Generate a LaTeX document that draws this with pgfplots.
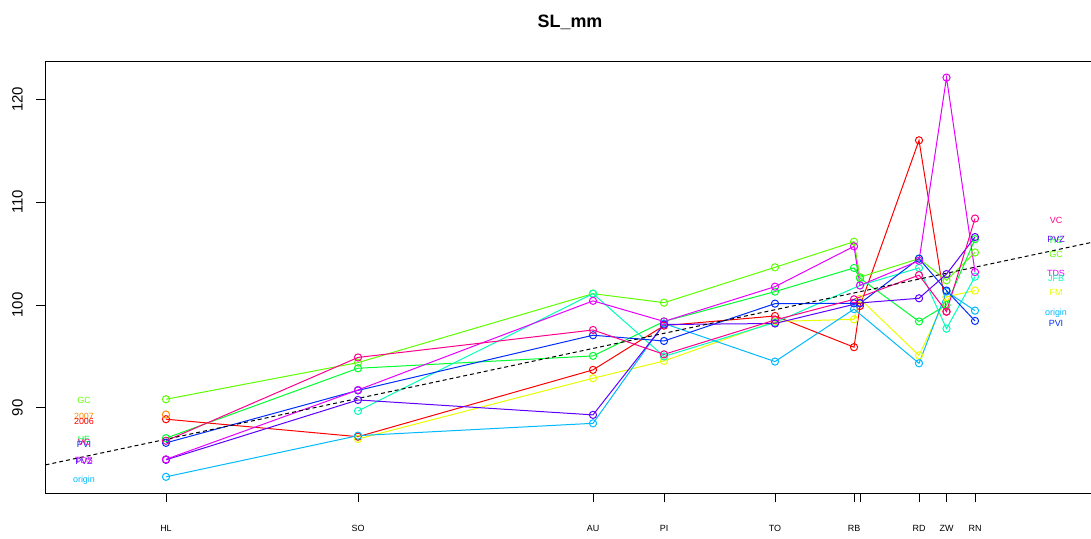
\documentclass[border=0pt]{standalone}
\usepackage{pgfplots}
\pgfplotsset{compat=1.18}
\usepackage{fontspec}
\setmainfont{Liberation Sans}
\definecolor{cRed}{HTML}{FF0000}
\definecolor{cOra}{HTML}{FF8B00}
\definecolor{cYel}{HTML}{E8FF00}
\definecolor{cChr}{HTML}{5DFF00}
\definecolor{cGrn}{HTML}{00FF2E}
\definecolor{cAqu}{HTML}{00FFB9}
\definecolor{cSky}{HTML}{00B9FF}
\definecolor{cBlu}{HTML}{002EFF}
\definecolor{cPur}{HTML}{5D00FF}
\definecolor{cMag}{HTML}{E800FF}
\definecolor{cPnk}{HTML}{FF008B}
\begin{document}
\begin{tikzpicture}[x=1bp,y=1bp]
\path[use as bounding box] (0,0) rectangle (1091,539);
\begin{axis}[
  at={(45.5bp,45.5bp)}, anchor=south west,
  scale only axis, width=1048.5bp, height=432.5bp,
  xmin=45.5, xmax=1094, ymin=81.68, ymax=123.71,
  clip=false,
  xtick={166,358,593,664,775,854,860,919,946.5,975},
  xticklabels={HL,SO,AU,PI,TO,RB,,RD,ZW,RN},
  ytick={90,100,110,120},
  xtick pos=lower, ytick pos=left,
  tick align=outside, major tick length=9bp,
  tick style={black, line width=0.8bp},
  axis line style={black, line width=0.8bp},
  /pgf/number format/assume math mode=true,
  x tick label style={font=\fontsize{9}{10}\selectfont, anchor=north, inner sep=0pt, yshift=-23bp},
  y tick label style={font=\fontsize{15}{18}\selectfont, xshift=-19bp, rotate=90, anchor=center, inner sep=0pt},
  every axis plot/.append style={line width=1bp, mark=o, mark size=3.6bp, mark options={solid, line width=1bp}},
]
% 2006
\addplot[cRed] coordinates {(166,88.9)(358,87.2)(593,93.69)(664,97.99)(775,98.93)(854,95.9)(860,99.9)(919,116.0)(946.5,99.35)};
% 2007
\addplot[cOra, only marks] coordinates {(166,89.35)};
% FM
\addplot[cYel] coordinates {(358,86.98)(593,92.88)(664,94.56)(775,98.4)(854,98.6)(860,100.6)(919,95.1)(946.5,100.8)(975,101.4)};
% GC
\addplot[cChr] coordinates {(166,90.84)(358,94.4)(593,101.1)(664,100.22)(775,103.66)(854,106.15)(860,102.7)(919,104.5)(946.5,102.4)(975,105.1)};
% HE
\addplot[cGrn] coordinates {(166,87.06)(358,93.85)(593,95.05)(664,98.4)(775,101.3)(854,103.6)(860,102.6)(919,98.4)(946.5,100.0)(975,106.4)};
% JFB
\addplot[cAqu] coordinates {(358,89.7)(593,101.1)(664,95.0)(775,98.3)(860,101.9)(919,103.6)(946.5,97.7)(975,102.75)};
% origin
\addplot[cSky] coordinates {(166,83.3)(358,87.3)(593,88.5)(664,98.2)(775,94.5)(854,99.6)(919,94.33)(946.5,101.3)(975,99.45)};
% PVI
\addplot[cBlu] coordinates {(166,86.6)(358,91.7)(593,97.06)(664,96.5)(775,100.13)(854,100.16)(860,100.16)(919,104.5)(946.5,101.4)(975,98.45)};
% PVZ
\addplot[cPur] coordinates {(166,84.95)(358,90.77)(593,89.32)(664,98.1)(775,98.2)(860,100.2)(919,100.65)(946.5,103.0)(975,106.6)};
% TDS
\addplot[cMag] coordinates {(166,85.0)(358,91.74)(593,100.4)(664,98.4)(775,101.78)(854,105.7)(860,101.9)(919,104.3)(946.5,122.1)(975,103.2)};
% VC
\addplot[cPnk] coordinates {(166,86.8)(358,94.9)(593,97.57)(664,95.2)(775,98.54)(854,100.55)(919,102.9)(946.5,99.35)(975,108.4)};
% trend
\addplot[black, dashed, mark=none, line width=1bp, dash pattern=on 4bp off 3bp] coordinates {(45.5,84.46)(1094,106.13)};
% left labels
\begin{scope}[every node/.style={font=\fontsize{9}{10}\selectfont, inner sep=0pt, anchor=center}]
\node[text=cChr] at (axis cs:84,90.7) {GC};
\node[text=cOra] at (axis cs:84,89.2) {2007};
\node[text=cRed] at (axis cs:84,88.7) {2006};
\node[text=cGrn] at (axis cs:84,86.9) {HE};
\node[text=cBlu] at (axis cs:84,86.45) {PVI};
\node[text=cPnk] at (axis cs:84,86.65) {VC};
\node[text=cPur] at (axis cs:84,84.8) {PVZ};
\node[text=cMag] at (axis cs:84,84.85) {TDS};
\node[text=cSky] at (axis cs:84,83.0) {origin};
% right labels
\node[text=cPnk] at (axis cs:1056,108.25) {VC};
\node[text=cGrn] at (axis cs:1056,106.25) {HE};
\node[text=cPur] at (axis cs:1056,106.4) {PVZ};
\node[text=cChr] at (axis cs:1056,104.95) {GC};
\node[text=cMag] at (axis cs:1056,103.1) {TDS};
\node[text=cAqu] at (axis cs:1056,102.55) {JFB};
\node[text=cYel] at (axis cs:1056,101.25) {FM};
\node[text=cSky] at (axis cs:1056,99.25) {origin};
\node[text=cBlu] at (axis cs:1056,98.25) {PVI};
\end{scope}
\end{axis}
\node[font=\fontsize{18}{20}\selectfont\bfseries] at (570,517) {SL\_mm};
\end{tikzpicture}
\end{document}
